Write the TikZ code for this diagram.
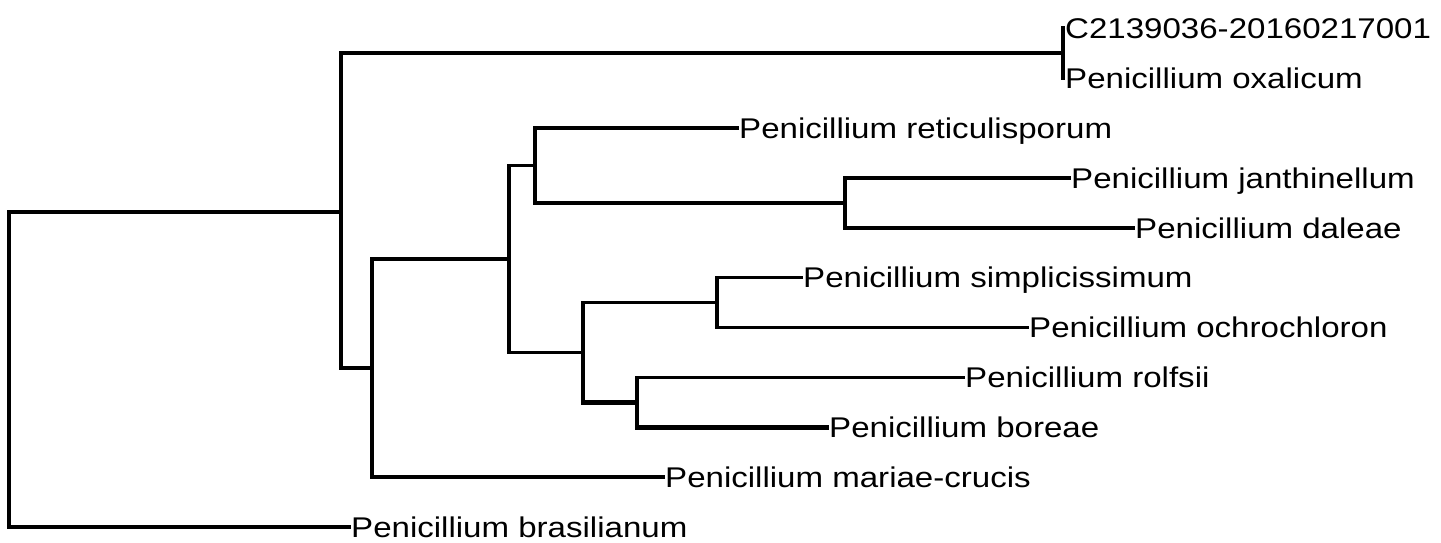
\documentclass[tikz,border=0pt]{standalone}
\usepackage{fontspec}
\setmainfont{Liberation Sans}[FakeStretch=1.16]
\begin{document}
\begin{tikzpicture}[x=1pt,y=-1pt,
  branch/.style={line width=3.6pt,line join=miter,line cap=rect},
  heavy/.style={branch,line width=4.8pt},
  taxon/.style={anchor=base west,inner sep=0pt,xshift=2pt,yshift=-10.2pt,
    font=\fontsize{28.5}{32}\selectfont}]
\useasboundingbox (0,0) rectangle (1441,542);

% leaf tips
\coordinate (t0)  at (1063,28);
\coordinate (t1)  at (1063,78);
\coordinate (t2)  at (737,128);
\coordinate (t3)  at (1069,178);
\coordinate (t4)  at (1133,228);
\coordinate (t5)  at (801,277.5);
\coordinate (t6)  at (1027,327.4);
\coordinate (t7)  at (963,377.3);
\coordinate (t8)  at (827,427.2);
\coordinate (t9)  at (663,477.1);
\coordinate (t10) at (349,527);

% internal nodes
\coordinate (nOx) at (1063,53);
\coordinate (nE)  at (845,203);
\coordinate (nD)  at (535,165.5);
\coordinate (nG)  at (717,302.5);
\coordinate (nH)  at (637,402.2);
\coordinate (nF)  at (583,352.3);
\coordinate (nC)  at (509,259);
\coordinate (nB)  at (372,368);
\coordinate (nA)  at (341,212);
\coordinate (nR)  at (9,369);

% taxon labels
\node[taxon] (l0)  at (t0)  {C2139036-20160217001};
\node[taxon] (l1)  at (t1)  {Penicillium oxalicum};
\node[taxon] (l2)  at (t2)  {Penicillium reticulisporum};
\node[taxon] (l3)  at (t3)  {Penicillium janthinellum};
\node[taxon] (l4)  at (t4)  {Penicillium daleae};
\node[taxon] (l5)  at (t5)  {Penicillium simplicissimum};
\node[taxon] (l6)  at (t6)  {Penicillium ochrochloron};
\node[taxon] (l7)  at (t7)  {Penicillium rolfsii};
\node[taxon] (l8)  at (t8)  {Penicillium boreae};
\node[taxon] (l9)  at (t9)  {Penicillium mariae-crucis};
\node[taxon] (l10) at (t10) {Penicillium brasilianum};

% clades
\draw[branch] (t0) -- (t1);
\draw[branch] (t3) -| (nE) |- (t4);
\draw[branch] (t2) -| (nD) |- (nE);
\draw[branch] (t5) -| (nG) |- (t6);
\draw[branch] (t7) -| (nH);
\draw[heavy]  (nH) |- (t8);
\draw[branch] (nG) -| (nF);
\draw[heavy]  (nF) |- (nH);
\draw[branch] (nD) -| (nC) |- (nF);
\draw[heavy]  (nC) -| (nB);
\draw[branch] (nB) |- (t9);
\draw[branch] (nOx) -| (nA) |- (nB);
\draw[heavy]  (nA) -| (nR) |- (t10);
\end{tikzpicture}
\end{document}
